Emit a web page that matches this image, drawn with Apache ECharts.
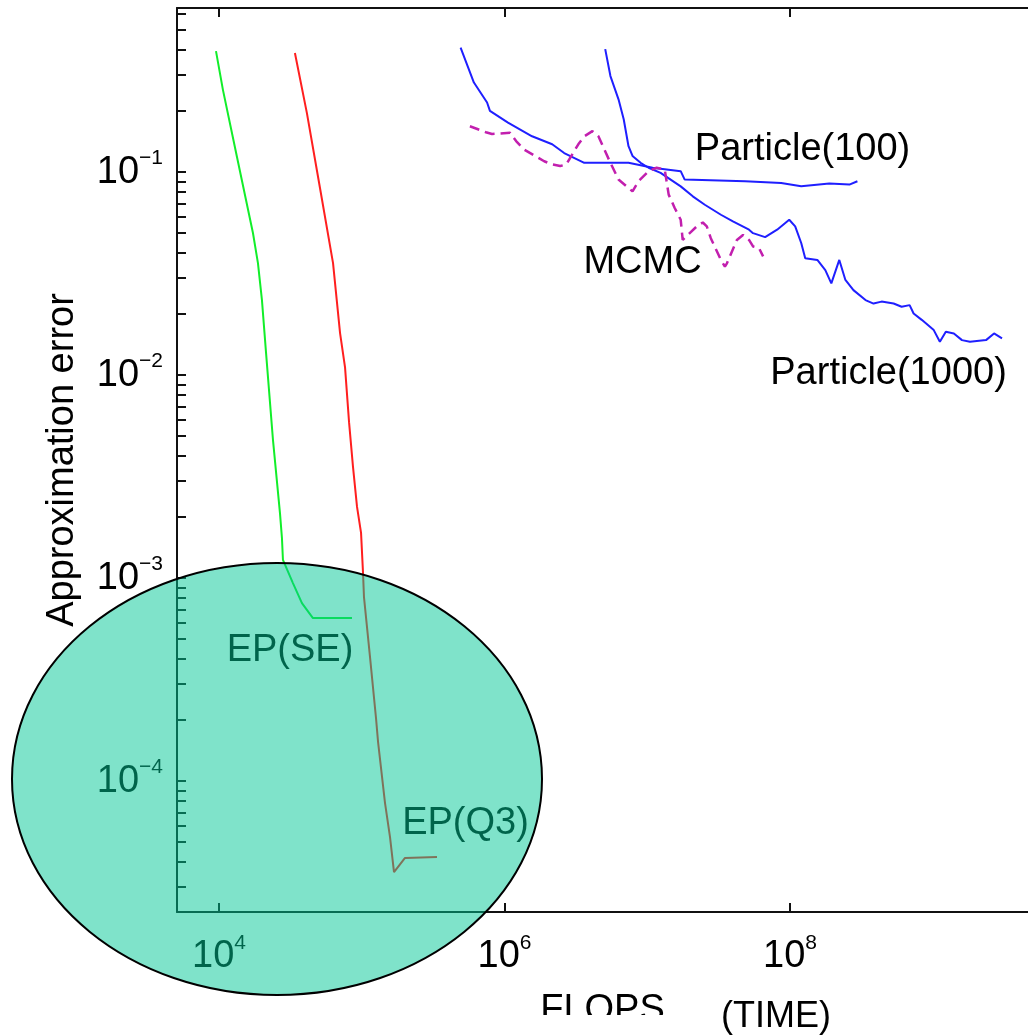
<!DOCTYPE html>
<html>
<head>
<meta charset="utf-8">
<script src="https://cdn.jsdelivr.net/npm/echarts@6/dist/echarts.min.js"></script>
<style>
html, body { margin: 0; padding: 0; background: #fff; }
#chart { width: 1028px; height: 1035px; }
</style>
</head>
<body>
<div id="chart"></div>
<script>
// curves: [FLOPS, approximation error]
const epSE = [
    [9530, 0.394], [10660, 0.254], [13370, 0.1186], [17300, 0.0501], [18750, 0.0356],
    [20000, 0.0234], [21340, 0.0130], [23890, 0.00479], [26750, 0.00209], [27620, 0.00157],
    [28060, 0.00123], [32970, 0.000945], [38120, 0.000753], [45520, 0.000635], [85500, 0.000635]
];
const epQ3 = [
    [34040, 0.386], [41300, 0.195], [51000, 0.0834], [62950, 0.0356], [70500, 0.0161],
    [76400, 0.0109], [81500, 0.00586], [86900, 0.00352], [92700, 0.00224], [98900, 0.00167],
    [102100, 0.00106], [103700, 0.000806], [114300, 0.000408], [125900, 0.000204],
    [130100, 0.000156], [145600, 0.0000779], [157800, 0.0000530], [168300, 0.0000356],
    [201000, 0.0000418], [336600, 0.0000423]
];
const particle100 = [
    [492600, 0.410], [610500, 0.276], [755000, 0.220], [790700, 0.200], [1058000, 0.175],
    [1560000, 0.150], [2158000, 0.137], [2619000, 0.124], [3622000, 0.111], [7390000, 0.111],
    [10900000, 0.105], [17150000, 0.101], [18290000, 0.0918], [48400000, 0.0901],
    [86700000, 0.0883], [119800000, 0.0850], [188400000, 0.0877], [260600000, 0.0867],
    [296500000, 0.0901]
];
const particle1000 = [
    [5076000, 0.403], [5521000, 0.297], [6290000, 0.228], [6840000, 0.182], [7390000, 0.134],
    [7883000, 0.120], [8981000, 0.111], [10220000, 0.105], [12400000, 0.0990],
    [17150000, 0.0850], [20840000, 0.0759], [25300000, 0.0690], [32810000, 0.0616],
    [39810000, 0.0571], [51620000, 0.0520], [55060000, 0.0500], [66930000, 0.0478],
    [81230000, 0.0520], [98720000, 0.0582], [108700000, 0.0540], [119800000, 0.0447],
    [127800000, 0.0376], [155400000, 0.0369], [176700000, 0.0329], [194700000, 0.0283],
    [221400000, 0.0369], [244300000, 0.0294], [278100000, 0.0262], [337900000, 0.0234],
    [384600000, 0.0225], [437500000, 0.0230], [531800000, 0.0225], [605000000, 0.0217],
    [688200000, 0.0221], [734000000, 0.0201], [836900000, 0.0187], [1016000000, 0.01665],
    [1121000000, 0.01458], [1234000000, 0.01634], [1405000000, 0.01603],
    [1601000000, 0.01486], [1821000000, 0.01458], [2361000000, 0.01486],
    [2686000000, 0.01603], [3055000000, 0.01515]
];
const mcmc = [
    [572300, 0.168], [740800, 0.157], [817400, 0.154], [1093000, 0.156], [1206000, 0.142],
    [1372000, 0.129], [1897000, 0.113], [2159000, 0.109], [2456000, 0.107], [2709000, 0.109],
    [3289000, 0.137], [3622000, 0.150], [4129000, 0.159], [4548000, 0.150], [5520000, 0.111],
    [6290000, 0.0918], [7883000, 0.0803], [8685000, 0.0901], [10220000, 0.101],
    [11630000, 0.105], [13250000, 0.103], [14130000, 0.0774], [15570000, 0.0665],
    [17150000, 0.0582], [17710000, 0.0463], [22240000, 0.0540], [24500000, 0.0564],
    [26130000, 0.0540], [27870000, 0.0472], [32810000, 0.0369], [34990000, 0.0342],
    [36140000, 0.0355], [42460000, 0.0463], [46840000, 0.0490], [51620000, 0.0463],
    [55060000, 0.0430], [60650000, 0.0422], [64790000, 0.0384]
];

// curve names and where their text sits in data space
const curveNames = ['Particle(100)', 'Particle(1000)', 'MCMC', 'EP(SE)', 'EP(Q3)'];
const curveNameAt = [
    [1.224e8, 0.1291], [4.898e8, 0.01017], [9.26e6, 0.0360], [31440, 0.000442], [533200, 0.0000621]
];

// axes
const xTicks = [1e4, 1e6, 1e8];
const yTicks = [1e-5, 1e-4, 1e-3, 1e-2, 1e-1];
const xRange = [Math.pow(10, 3.706), Math.pow(10, 9.667)];
const yRange = [Math.pow(10, -4.645), Math.pow(10, -0.192)];

const font = 'Liberation Sans';

// minor ticks 2..9 x 10^k on the error axis
let yTickAll = [];
yTicks.forEach(t => {
    for (let m = 1; m <= 9; m++) {
        yTickAll.push(m * t);
    }
});

const powLabel = v => {
    let e = Math.round(Math.log10(v));
    let s = e < 0 ? '\u2212' + (-e) : '' + e;
    return '{b|10}{s|' + s + '}';
};
const powRich = {
    b: {fontSize: 38, lineHeight: 48, fontFamily: font, color: '#000'},
    s: {fontSize: 21, lineHeight: 14, verticalAlign: 'top', fontFamily: font, color: '#000'}
};
const axisLineStyle = {color: '#111', width: 2};

let chart = echarts.init(document.getElementById('chart'));

const lineSeries = (name, data, color, width, type) => ({
    name: name,
    type: 'line',
    data: data,
    symbol: 'none',
    lineStyle: {color: color, width: width, type: type || 'solid'},
    z: 3
});

let option = {
    animation: false,
    backgroundColor: '#fff',
    grid: {left: 177, top: 8, right: 0, bottom: 123, outerBoundsMode: 'none'},
    xAxis: [{
        type: 'log',
        logBase: 10,
        min: xRange[0],
        max: xRange[1],
        name: 'FLOPS',
        nameLocation: 'middle',
        nameGap: 80,
        nameMoveOverlap: false,
        nameTextStyle: {fontSize: 38, fontFamily: font, color: '#000'},
        axisLine: {onZero: false, lineStyle: axisLineStyle},
        axisTick: {inside: true, length: 9, customValues: xTicks, lineStyle: axisLineStyle},
        axisLabel: {customValues: xTicks, margin: 21, formatter: powLabel, rich: powRich},
        splitLine: {show: false},
        minorTick: {show: false}
    }, {
        type: 'log',
        logBase: 10,
        position: 'top',
        min: xRange[0],
        max: xRange[1],
        axisLine: {onZero: false, lineStyle: axisLineStyle},
        axisTick: {inside: true, length: 9, customValues: xTicks, lineStyle: axisLineStyle},
        axisLabel: {show: false},
        splitLine: {show: false}
    }],
    yAxis: {
        type: 'log',
        logBase: 10,
        min: yRange[0],
        max: yRange[1],
        name: 'Approximation error',
        nameLocation: 'middle',
        nameGap: 95,
        nameMoveOverlap: false,
        nameTextStyle: {fontSize: 38, fontFamily: font, color: '#000'},
        axisLine: {onZero: false, lineStyle: axisLineStyle},
        axisTick: {inside: true, length: 9, customValues: yTickAll, lineStyle: axisLineStyle},
        axisLabel: {customValues: yTicks, margin: 14, formatter: powLabel, rich: powRich},
        splitLine: {show: false}
    },
    series: [
        lineSeries('EP(SE)', epSE, '#12ee2a', 2),
        lineSeries('EP(Q3)', epQ3, '#ff1f1f', 2),
        lineSeries('Particle(100)', particle100, '#1f1fff', 2),
        lineSeries('Particle(1000)', particle1000, '#1f1fff', 2),
        lineSeries('MCMC', mcmc, '#c21fae', 2.5, [10, 6]),
        {
            name: 'names',
            type: 'scatter',
            symbolSize: 0,
            itemStyle: {color: 'transparent', opacity: 1},
            z: 4,
            data: curveNames.map((n, i) => ({name: n, value: curveNameAt[i]})),
            label: {
                show: true,
                position: 'inside',
                formatter: '{b}',
                fontSize: 38,
                fontFamily: font,
                color: '#000',
                opacity: 1,
                textBorderWidth: 0
            }
        }
    ],
    graphic: [
        // the original figure was cut through the axis title
        {type: 'rect', z: 50, shape: {x: 420, y: 1015, width: 290, height: 20}, style: {fill: '#fff'}},
        {
            type: 'ellipse',
            z: 100,
            shape: {cx: 277, cy: 779, rx: 265, ry: 216},
            style: {fill: 'rgba(0, 200, 150, 0.5)', stroke: '#000', lineWidth: 2}
        },
        {
            type: 'text',
            z: 101,
            style: {
                text: '(TIME)',
                x: 776,
                y: 1017,
                align: 'center',
                verticalAlign: 'middle',
                fontSize: 36,
                fontFamily: font,
                fill: '#000'
            }
        }
    ]
};
chart.setOption(option);
</script>
</body>
</html>
